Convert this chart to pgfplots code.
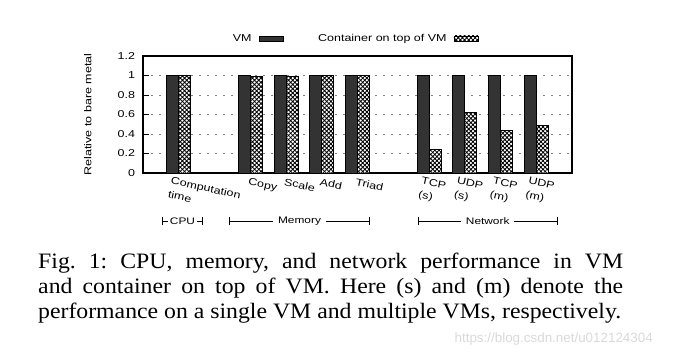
\documentclass[border=0pt]{standalone}
\usepackage{fontspec}
\usepackage{pgfplots}
\pgfplotsset{compat=1.18}
\usetikzlibrary{patterns.meta,arrows.meta}
\setmainfont{Liberation Sans}
\newfontfamily\chartfont{Liberation Sans}[FakeStretch=1.25]
\newfontfamily\capfont{Liberation Serif}[FakeStretch=1.08]
\definecolor{vmgray}{HTML}{333333}
\pgfplotsset{boxlegend/.style={legend image code/.code={\draw[##1] (0pt,-2.5pt) rectangle (24pt,2.5pt);}}}
\newcommand{\cf}{\chartfont\fontsize{10}{12.5}\selectfont}
\begin{document}
\begin{tikzpicture}
\begin{axis}[
  at={(143pt,183pt)}, anchor=south west,
  scale only axis, width=429pt, height=117pt,
  xmin=-1, xmax=11, ymin=0, ymax=1.2,
  ybar=0pt, bar width=12pt,
  ytick={0,0.2,0.4,0.6,0.8,1,1.2},
  ytick pos=left, tick align=inside, major tick length=6pt,
  xtick={0,2,3,4,5,7,8,9,10},
  xticklabels={{\hspace*{-6pt}Computation\\\hspace*{-6pt}time},Copy,Scale,Add,Triad,{\hspace*{-6pt}TCP\\\hspace*{-6pt}(s)},{\hspace*{-6pt}UDP\\\hspace*{-6pt}(s)},{\hspace*{-6pt}TCP\\\hspace*{-6pt}(m)},{\hspace*{-6pt}UDP\\\hspace*{-6pt}(m)}},
  xtick style={draw=none},
  ytick style={line width=0.8pt, black},
  xticklabel style={anchor=north west, rotate=-12, inner sep=0pt, yshift=-5pt, font=\chartfont\fontsize{10}{14}\selectfont, align=left},
  yticklabel style={font=\cf, xshift=-4.5pt},
  /pgf/number format/assume math mode=true,
  ymajorgrids, y grid style={black!50, dash pattern=on 2pt off 6pt, line width=0.8pt},
  axis line style={line width=1.2pt},
  ylabel={Relative to bare metal},
  ylabel style={font=\cf, at={(axis description cs:-0.112,0.5)}, anchor=south},
  legend columns=2, legend plot pos=right,
  legend style={draw=none, fill=none, at={(axis description cs:0.5,1)}, anchor=south, xshift=-3pt, yshift=9pt, font=\cf},
  clip=false,
]
\addplot[fill=vmgray, draw=black, line width=0.6pt, boxlegend] coordinates {(0,1) (2,1) (3,1) (4,1) (5,1) (7,1) (8,1) (9,1) (10,1)};
\addlegendentry{VM\kern5pt\null}
\addplot[fill=white, draw=black, line width=0.6pt, postaction={pattern={Hatch[angle=45,distance=3pt,line width=0.85pt]}, pattern color=black}, boxlegend] coordinates {(0,1.0) (2,0.99) (3,0.99) (4,1.0) (5,1.0) (7,0.24) (8,0.62) (9,0.44) (10,0.49)};
\addlegendentry{\kern33pt Container on top of VM\kern5pt\null}
\draw[{Bar[width=8pt]}-{Bar[width=8pt]}, line width=0.8pt] (axis cs:-0.469,-0.497) -- node[fill=white, inner xsep=2pt, inner ysep=1pt, font=\chartfont\fontsize{9.5}{11}\selectfont]{CPU} (axis cs:0.678,-0.497);
\draw[{Bar[width=8pt]}-{Bar[width=8pt]}, line width=0.8pt] (axis cs:1.406,-0.497) -- node[fill=white, inner xsep=5pt, inner ysep=1pt, font=\chartfont\fontsize{9.5}{11}\selectfont]{Memory} (axis cs:5.35,-0.497);
\draw[{Bar[width=8pt]}-{Bar[width=8pt]}, line width=0.8pt] (axis cs:6.684,-0.497) -- node[fill=white, inner xsep=5pt, inner ysep=1pt, font=\chartfont\fontsize{9.5}{11}\selectfont]{Network} (axis cs:10.6,-0.497);
\end{axis}
\node[anchor=base west, text width=585pt, align=justify, inner sep=0pt, font=\capfont\fontsize{22}{24.7}\selectfont\frenchspacing] at (38pt,87pt) {Fig.\ 1: CPU, memory, and network performance in VM\linebreak and container on top of VM. Here (s) and (m) denote the\linebreak performance on a single VM and multiple VMs, respectively.};
\node[anchor=base east, inner sep=0pt, text=black!15, font=\fontsize{13.4}{14}\selectfont] at (653pt,13pt) {https://blog.csdn.net/u012124304};
\pgfresetboundingbox
\useasboundingbox (0,0) rectangle (699pt,356pt);
\end{tikzpicture}
\end{document}
